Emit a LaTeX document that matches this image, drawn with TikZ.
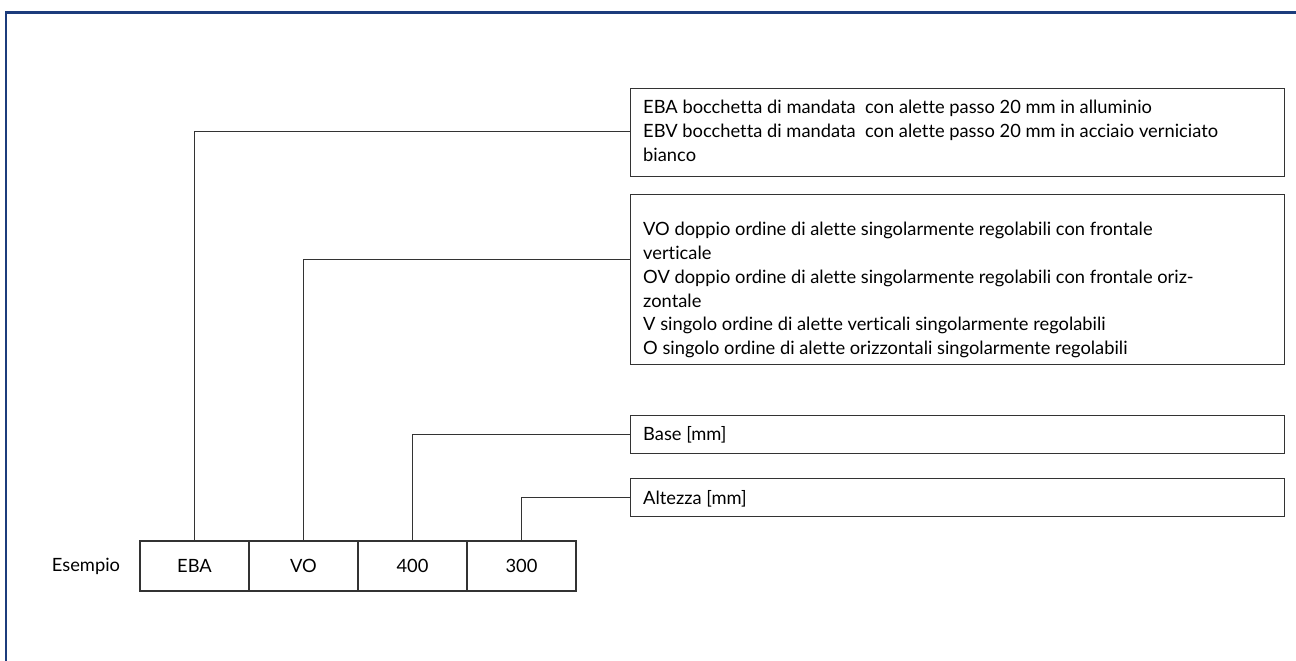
\documentclass[tikz,border=0pt]{standalone}
\usepackage{fontspec}
\setmainfont{Lato}[Ligatures={NoCommon}]
\definecolor{framecol}{HTML}{1C3C7C}
\definecolor{linecol}{HTML}{333333}
\tikzset{
  box/.style={draw=linecol, line width=1.4pt, rectangle, inner sep=0pt, anchor=north west},
  cell/.style={draw=linecol, line width=1.4pt, rectangle, inner sep=0pt, minimum width=109pt, minimum height=50pt, font=\fontsize{18.3}{22}\selectfont},
  txt/.style={inner sep=0pt, anchor=north west, align=left, font=\fontsize{18.3}{23.7}\selectfont},
  conn/.style={draw=linecol, line width=1pt}
}
\begin{document}
\begin{tikzpicture}[x=1pt,y=-1pt]
\useasboundingbox (0,0) rectangle (1296,661);
% frame
\draw[framecol, line width=2.5pt] (6,661) -- (6,12.5) -- (1296,12.5);
% description boxes
\node[box, minimum width=654pt, minimum height=88pt] (d1) at (630,88) {};
\node[box, minimum width=654pt, minimum height=170pt] (d2) at (630,194) {};
\node[box, minimum width=654pt, minimum height=38pt] (d3) at (630,415) {};
\node[box, minimum width=654pt, minimum height=38pt] (d4) at (630,478) {};
\node[txt] (t1) at (643,100.3) {EBA bocchetta di mandata~ con alette passo 20 mm in alluminio\\EBV bocchetta di mandata~ con alette passo 20 mm in acciaio verniciato\\bianco};
\node[txt] (t2) at (643,222.3) {VO doppio ordine di alette singolarmente regolabili con frontale\\verticale\\OV doppio ordine di alette singolarmente regolabili con frontale oriz-\\zontale\\V singolo ordine di alette verticali singolarmente regolabili\\O singolo ordine di alette orizzontali singolarmente regolabili};
\node[txt] (t3) at (643,426.3) {Base [mm]};
\node[txt] (t4) at (643,490.3) {Altezza [mm]};
% example cells
\node[cell] (c1) at (194.5,566) {EBA};
\node[cell] (c2) at (303.5,566) {VO};
\node[cell] (c3) at (412.5,566) {400};
\node[cell] (c4) at (521.5,566) {300};
\node[inner sep=0pt, font=\fontsize{18.3}{22}\selectfont] (es) at (86,566) {Esempio};
% connectors
\draw[conn] (c1.north) |- (d1.west |- 0,131.5);
\draw[conn] (c2.north) |- (d2.west |- 0,259);
\draw[conn] (c3.north) |- (d3.west);
\draw[conn] (c4.north) |- (d4.west);
\end{tikzpicture}
\end{document}
